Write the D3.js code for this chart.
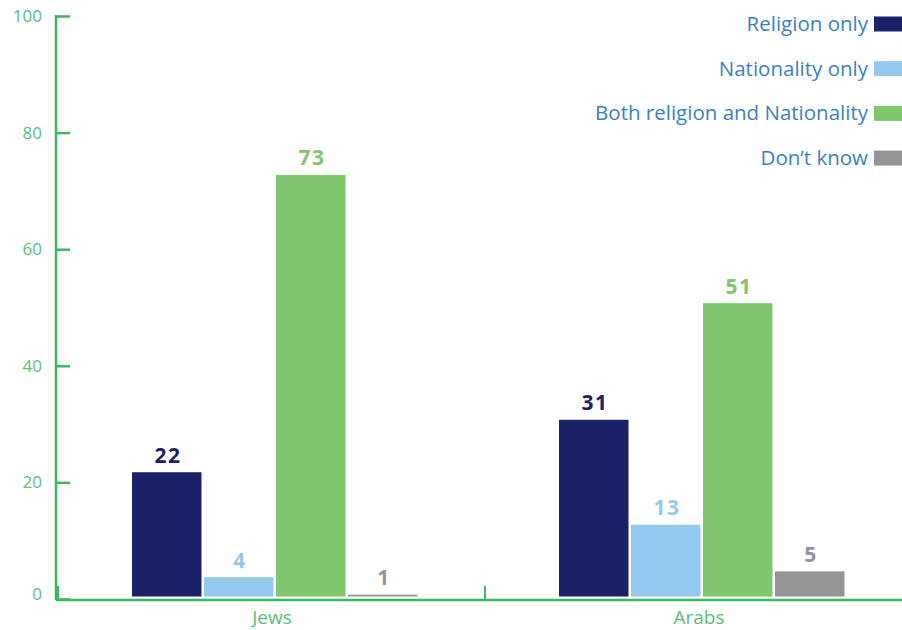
<!DOCTYPE html>
<html>
<head>
<meta charset="utf-8">
<script src="https://cdn.jsdelivr.net/npm/d3@7"></script>
<style>
  html, body { margin: 0; padding: 0; background: #fff; }
  svg { display: block; font-family: "Open Sans", "Noto Sans", sans-serif; }
</style>
</head>
<body>
<svg id="chart" width="902" height="630"></svg>
<script>
// Groups on the x axis
const groups = ["Jews", "Arabs"];
// Answer series, in drawing order
const series = ["Religion only", "Nationality only", "Both religion and Nationality", "Don\u2019t know"];
const seriesColors = ["#1b2169", "#93c9ec", "#7fc66e", "#949599"];
// Percentages per series, one value per group
const religionOnly = [22, 31];
const nationalityOnly = [4, 13];
const bothReligionNationality = [73, 51];
const dontKnow = [1, 5];
// Y axis ticks
const yTicks = [0, 20, 40, 60, 80, 100];

const values = [religionOnly, nationalityOnly, bothReligionNationality, dontKnow];
const rows = [];
groups.forEach((g, gi) => {
  series.forEach((s, si) => rows.push({ group: g, series: s, value: values[si][gi], color: seriesColors[si] }));
});

const svg = d3.select("#chart");
const axisColor = "#3db85c";
const tickText = "#5cc072";

const x = d3.scaleBand().domain(groups).range([56, 910]).paddingInner(0).paddingOuter(0);
const inner = d3.scaleBand().domain(series).range([75, 75 + 288]).padding(0);
const y = d3.scaleLinear().domain([0, 100]).range([599, 16]);

// Bars
svg.append("g").selectAll("rect").data(rows).join("rect")
  .attr("x", d => x(d.group) + inner(d.series) + 1)
  .attr("width", inner.bandwidth() - 2.5)
  .attr("y", d => y(d.value) + 1.5)
  .attr("height", d => y(0) - 2.5 - y(d.value) - 1.5)
  .attr("fill", d => d.color);

// Value labels
svg.append("g").selectAll("text").data(rows).join("text")
  .attr("x", d => x(d.group) + inner(d.series) + inner.bandwidth() / 2 + 1)
  .attr("y", d => y(d.value) - 8)
  .attr("text-anchor", "middle")
  .attr("font-size", 21)
  .attr("font-weight", "bold")
  .attr("letter-spacing", 1.5)
  .attr("fill", d => d.color)
  .text(d => d.value);

// Y axis
const yAxis = svg.append("g").attr("transform", "translate(56,0)")
  .call(d3.axisRight(y).tickValues(yTicks).tickSize(14).tickFormat(""));
yAxis.select(".domain").remove();
yAxis.selectAll("line").attr("stroke", axisColor).attr("stroke-width", 2.5);
svg.append("line").attr("x1", 56).attr("x2", 56).attr("y1", y(100) - 1).attr("y2", y(0) + 1)
  .attr("stroke", axisColor).attr("stroke-width", 2.5);
svg.append("g").selectAll("text").data(yTicks).join("text")
  .attr("x", 42).attr("y", d => y(d) + (d === 0 ? 1 : 6))
  .attr("text-anchor", "end").attr("font-size", 17).attr("fill", tickText)
  .text(d => d);

// X axis
svg.append("line").attr("x1", 56).attr("x2", 902).attr("y1", y(0) + 1).attr("y2", y(0) + 1)
  .attr("stroke", axisColor).attr("stroke-width", 2.5);
svg.append("g").selectAll("line").data(groups).join("line")
  .attr("x1", d => x(d) + 2).attr("x2", d => x(d) + 2)
  .attr("y1", y(0) - 13).attr("y2", y(0) + 1)
  .attr("stroke", axisColor).attr("stroke-width", 2);
svg.append("g").selectAll("text").data(groups).join("text")
  .attr("x", d => x(d) + inner(series[0]) + 141).attr("y", 624)
  .attr("text-anchor", "middle").attr("font-size", 19).attr("fill", tickText)
  .text(d => d);

// Legend
const legend = svg.append("g").selectAll("g").data(series).join("g")
  .attr("transform", (d, i) => `translate(0, ${24 + i * 44.7})`);
legend.append("rect").attr("x", 874).attr("y", -7.5).attr("width", 28).attr("height", 15)
  .attr("fill", (d, i) => seriesColors[i]);
legend.append("text").attr("x", 868).attr("y", 7)
  .attr("text-anchor", "end").attr("font-size", 20.5).attr("fill", "#3a7fc4")
  .text(d => d);
</script>
</body>
</html>
